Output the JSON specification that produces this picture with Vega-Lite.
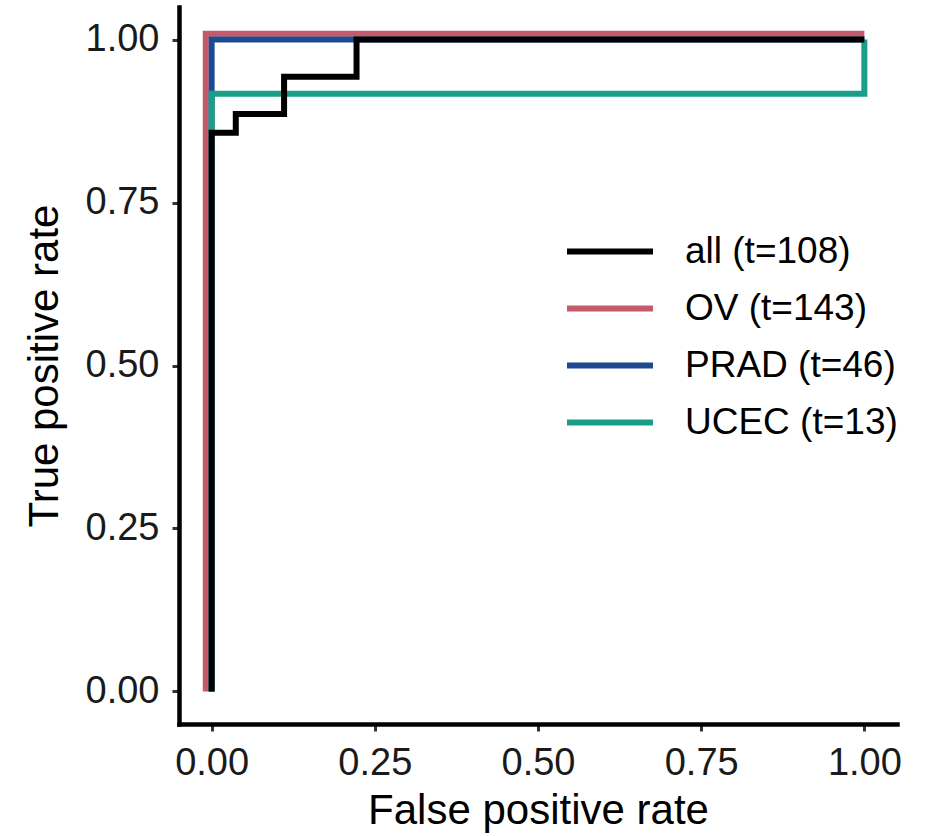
{
  "$schema": "https://vega.github.io/schema/vega-lite/v6.json",
  "width": 718,
  "height": 717,
  "autosize": {"type": "none"},
  "padding": {"left": 179, "top": 7, "right": 36, "bottom": 112},
  "background": "white",
  "config": {"view": {"stroke": null}, "font": "Liberation Sans"},
  "data": {
    "values": [
      {"curve": "OV (t=143)", "ord": 1, "fpr": -0.009, "tpr": 0},
      {"curve": "OV (t=143)", "ord": 2, "fpr": -0.009, "tpr": 1.009},
      {"curve": "OV (t=143)", "ord": 3, "fpr": 1.0, "tpr": 1.009},
      {"curve": "PRAD (t=46)", "ord": 1, "fpr": 0, "tpr": 0},
      {"curve": "PRAD (t=46)", "ord": 2, "fpr": 0, "tpr": 1},
      {"curve": "PRAD (t=46)", "ord": 3, "fpr": 1, "tpr": 1},
      {"curve": "UCEC (t=13)", "ord": 1, "fpr": 0, "tpr": 0},
      {"curve": "UCEC (t=13)", "ord": 2, "fpr": 0, "tpr": 0.917},
      {"curve": "UCEC (t=13)", "ord": 3, "fpr": 1, "tpr": 0.917},
      {"curve": "UCEC (t=13)", "ord": 4, "fpr": 1, "tpr": 1},
      {"curve": "all (t=108)", "ord": 1, "fpr": 0, "tpr": 0},
      {"curve": "all (t=108)", "ord": 2, "fpr": 0, "tpr": 0.857},
      {"curve": "all (t=108)", "ord": 3, "fpr": 0.037, "tpr": 0.857},
      {"curve": "all (t=108)", "ord": 4, "fpr": 0.037, "tpr": 0.886},
      {"curve": "all (t=108)", "ord": 5, "fpr": 0.111, "tpr": 0.886},
      {"curve": "all (t=108)", "ord": 6, "fpr": 0.111, "tpr": 0.943},
      {"curve": "all (t=108)", "ord": 7, "fpr": 0.222, "tpr": 0.943},
      {"curve": "all (t=108)", "ord": 8, "fpr": 0.222, "tpr": 1},
      {"curve": "all (t=108)", "ord": 9, "fpr": 1, "tpr": 1}
    ]
  },
  "encoding": {
    "x": {
      "field": "fpr", "type": "quantitative",
      "scale": {"domain": [-0.05, 1.05], "nice": false, "zero": false},
      "axis": {
        "title": "False positive rate", "values": [0, 0.25, 0.5, 0.75, 1], "format": ".2f",
        "grid": false, "domainColor": "black", "domainWidth": 4.5, "domainCap": "square",
        "tickColor": "#333333", "tickWidth": 3, "tickSize": 7,
        "labelFontSize": 38, "labelColor": "#1a1a1a", "labelPadding": 13,
        "titleFontSize": 42, "titleFontWeight": "normal", "titleColor": "black", "titlePadding": 8
      }
    },
    "y": {
      "field": "tpr", "type": "quantitative",
      "scale": {"domain": [-0.05, 1.05], "nice": false, "zero": false},
      "axis": {
        "title": "True positive rate", "values": [0, 0.25, 0.5, 0.75, 1], "format": ".2f",
        "grid": false, "domainColor": "black", "domainWidth": 4.5, "domainCap": "square",
        "tickColor": "#333333", "tickWidth": 3, "tickSize": 7,
        "labelFontSize": 38, "labelColor": "#1a1a1a", "labelPadding": 13,
        "titleFontSize": 42, "titleFontWeight": "normal", "titleColor": "black", "titlePadding": 19
      }
    },
    "color": {
      "field": "curve", "type": "nominal",
      "scale": {
        "domain": ["all (t=108)", "OV (t=143)", "PRAD (t=46)", "UCEC (t=13)"],
        "range": ["#000000", "#C55A6B", "#1E4A94", "#1A9E87"]
      },
      "legend": {
        "title": null, "orient": "none", "legendX": 385, "legendY": 216,
        "symbolType": "stroke", "symbolSize": 7396, "symbolStrokeWidth": 6,
        "clipHeight": 57, "rowPadding": 0, "padding": 0,
        "labelFontSize": 37, "labelColor": "black", "labelOffset": 29, "labelLimit": 400
      }
    },
    "order": {"field": "ord", "type": "quantitative"}
  },
  "layer": [
    {"transform": [{"filter": "datum.curve === 'OV (t=143)'"}], "mark": {"type": "line", "strokeWidth": 6, "strokeCap": "butt", "strokeJoin": "miter"}},
    {"transform": [{"filter": "datum.curve === 'PRAD (t=46)'"}], "mark": {"type": "line", "strokeWidth": 6, "strokeCap": "butt", "strokeJoin": "miter"}},
    {"transform": [{"filter": "datum.curve === 'UCEC (t=13)'"}], "mark": {"type": "line", "strokeWidth": 6, "strokeCap": "butt", "strokeJoin": "miter"}},
    {"transform": [{"filter": "datum.curve === 'all (t=108)'"}], "mark": {"type": "line", "strokeWidth": 6, "strokeCap": "butt", "strokeJoin": "miter"}}
  ]
}
